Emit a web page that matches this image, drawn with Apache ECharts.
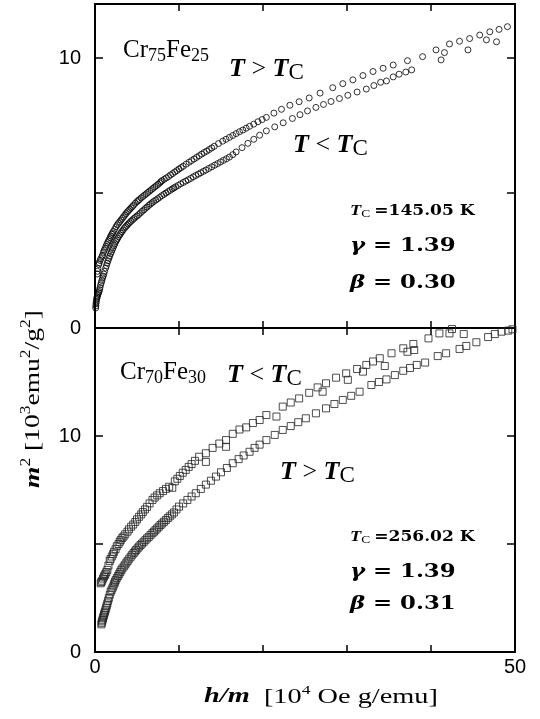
<!DOCTYPE html>
<html>
<head>
<meta charset="utf-8">
<script src="https://cdn.jsdelivr.net/npm/echarts@6/dist/echarts.min.js"></script>
<style>
html,body{margin:0;padding:0;background:#fff;}
#c{width:540px;height:719px;}
</style>
</head>
<body>
<div id="c"></div>
<script>
// ---- Data ----
// x: h/m [10^4 Oe g/emu], y: m^2 [10^3 emu^2/g^2]
var xTickLabels = ['0', '50'];
var yTickLabels = ['0', '10'];

// Cr75Fe25, T > Tc (upper branch)
var crfe25Above = [
 [0.27,2.0],[0.3,2.1],[0.35,2.2],[0.45,2.35],[0.5,2.42],[0.6,2.5],[0.7,2.57],[0.84,2.65],[0.9,2.7],[1.0,2.8],
 [1.1,2.88],[1.2,2.95],[1.3,3.02],[1.4,3.1],[1.5,3.16],[1.6,3.22],[1.7,3.28],[1.8,3.35],[1.9,3.41],[2.0,3.47],
 [2.1,3.52],[2.2,3.58],[2.35,3.66],[2.5,3.75],[2.65,3.82],[2.8,3.88],[2.95,3.94],[3.1,4.0],[3.25,4.06],[3.4,4.12],
 [3.55,4.18],[3.7,4.24],[3.85,4.3],[4.0,4.35],[4.15,4.4],[4.3,4.45],[4.45,4.5],[4.6,4.55],[4.8,4.62],[5.0,4.68],
 [5.15,4.72],[5.3,4.76],[5.5,4.82],[5.7,4.87],[5.9,4.92],[6.1,4.97],[6.3,5.02],[6.5,5.07],[6.7,5.12],[6.9,5.17],
 [7.1,5.22],[7.3,5.27],[7.5,5.32],[7.7,5.37],[7.85,5.42],[8.0,5.46],[8.25,5.51],[8.5,5.56],[8.75,5.61],[9.0,5.67],
 [9.25,5.72],[9.5,5.78],[9.75,5.83],[10.0,5.89],[10.25,5.94],[10.5,5.99],[10.85,6.07],[11.2,6.14],[11.5,6.2],[11.8,6.26],
 [12.1,6.32],[12.4,6.38],[12.7,6.44],[13.0,6.5],[13.3,6.55],[13.6,6.61],[13.9,6.67],[14.2,6.73],[14.7,6.83],[15.2,6.92],
 [15.6,6.99],[16.0,7.06],[16.4,7.13],[16.8,7.2],[17.2,7.27],[17.6,7.33],[18.0,7.4],[18.4,7.47],[18.9,7.55],[19.4,7.64],
 [19.9,7.72],[20.4,7.8],[21.3,7.96],[22.2,8.1],[23.2,8.25],[24.3,8.38],[25.5,8.52],[26.8,8.7],[28.3,8.9],[29.5,9.05],
 [30.7,9.19],[31.9,9.35],[33.1,9.5],[34.3,9.62],[35.5,9.74],[37.2,9.9],[39.0,10.05],[40.6,10.3],[42.2,10.52],[43.4,10.62],
 [44.6,10.72],[45.8,10.85],[47.0,10.97],[48.1,11.06],[49.1,11.16]
];
// Cr75Fe25, T < Tc (lower branch)
var crfe25Below = [
 [0.08,0.74],[0.1,0.82],[0.12,0.9],[0.15,0.97],[0.18,1.05],[0.22,1.1],[0.25,1.15],[0.3,1.2],[0.35,1.25],[0.42,1.3],
 [0.48,1.35],[0.54,1.42],[0.6,1.5],[0.67,1.6],[0.75,1.68],[0.82,1.76],[0.9,1.85],[0.97,1.92],[1.05,2.0],[1.15,2.1],
 [1.27,2.22],[1.36,2.31],[1.45,2.4],[1.55,2.49],[1.65,2.58],[1.75,2.66],[1.85,2.75],[1.95,2.82],[2.05,2.9],[2.15,2.97],
 [2.25,3.05],[2.36,3.12],[2.47,3.2],[2.58,3.26],[2.7,3.32],[2.82,3.39],[2.95,3.45],[3.07,3.51],[3.2,3.57],[3.35,3.63],
 [3.5,3.7],[3.65,3.75],[3.8,3.8],[3.95,3.85],[4.1,3.9],[4.27,3.95],[4.45,4.0],[4.62,4.05],[4.8,4.1],[5.0,4.15],
 [5.2,4.2],[5.4,4.26],[5.6,4.32],[5.8,4.37],[6.0,4.43],[6.2,4.48],[6.4,4.54],[6.6,4.59],[6.8,4.64],[7.0,4.69],
 [7.24,4.74],[7.47,4.79],[7.7,4.84],[7.95,4.9],[8.2,4.95],[8.45,5.0],[8.7,5.05],[8.95,5.1],[9.2,5.15],[9.4,5.19],
 [9.6,5.23],[9.9,5.28],[10.2,5.34],[10.5,5.39],[10.8,5.44],[11.1,5.49],[11.4,5.54],[11.7,5.6],[12.0,5.65],[12.3,5.7],
 [12.6,5.75],[12.9,5.8],[13.2,5.85],[13.55,5.91],[13.9,5.97],[14.25,6.03],[14.6,6.09],[14.95,6.15],[15.3,6.21],[15.65,6.27],
 [16.0,6.33],[16.4,6.42],[16.8,6.52],[17.5,6.68],[18.2,6.84],[18.9,6.99],[19.6,7.14],[20.4,7.3],[21.4,7.45],[22.4,7.6],
 [23.5,7.76],[24.4,7.9],[25.3,8.04],[26.3,8.17],[27.2,8.28],[28.1,8.39],[29.1,8.5],[30.1,8.62],[31.2,8.74],[32.3,8.85],
 [33.2,8.98],[34.0,9.1],[34.7,9.15],[35.5,9.3],[36.2,9.4],[37.0,9.48],[37.7,9.56],[41.2,9.93],[41.6,10.2],[44.4,10.3],
 [46.6,10.67],[47.8,10.6]
];
// Cr70Fe30, T < Tc (upper branch)
var crfe30Below = [
 [0.68,3.18],[0.75,3.24],[0.85,3.3],[0.95,3.4],[1.07,3.49],[1.15,3.55],[1.25,3.62],[1.35,3.7],[1.47,3.8],[1.6,4.0],
 [1.75,4.21],[1.85,4.3],[2.0,4.42],[2.15,4.53],[2.27,4.64],[2.45,4.76],[2.6,4.9],[2.8,5.0],[2.95,5.1],[3.07,5.19],
 [3.25,5.28],[3.4,5.35],[3.6,5.45],[3.86,5.57],[4.05,5.68],[4.3,5.8],[4.55,5.9],[4.8,6.02],[5.0,6.14],[5.25,6.26],
 [5.5,6.37],[5.7,6.48],[5.95,6.6],[6.2,6.72],[6.5,6.88],[6.84,7.04],[7.1,7.15],[7.4,7.25],[7.7,7.35],[8.1,7.45],
 [8.45,7.55],[8.83,7.65],[9.2,7.6],[9.5,7.9],[9.8,8.02],[10.1,8.15],[10.45,8.3],[10.8,8.43],[11.15,8.57],[11.5,8.7],
 [11.9,8.85],[12.4,9.04],[13.2,9.2],[13.2,8.8],[14.0,9.45],[14.8,9.65],[15.6,9.81],[15.6,9.5],[16.4,10.1],[17.2,10.3],
 [18.0,10.4],[18.8,10.6],[19.6,10.74],[20.4,10.97],[21.6,10.9],[22.35,11.36],[23.3,11.55],[24.3,11.74],[25.5,12.0],[26.5,12.25],
 [27.1,12.05],[27.5,12.44],[28.7,12.7],[29.9,12.9],[30.1,12.6],[31.2,13.1],[31.9,12.98],[32.3,13.29],[33.1,13.45],[33.9,13.6],
 [34.5,13.24],[35.3,13.83],[36.7,14.06],[37.2,13.9],[37.9,14.26],[38.0,13.98],[39.7,14.52],[41.0,14.75],[42.2,14.75],[42.5,14.95],
 [43.9,14.72]
];
// Cr70Fe30, T > Tc (lower branch)
var crfe30Above = [
 [0.76,1.28],[0.8,1.35],[0.85,1.42],[0.9,1.49],[0.95,1.56],[1.01,1.64],[1.07,1.72],[1.13,1.8],[1.19,1.87],[1.26,1.96],
 [1.33,2.05],[1.4,2.15],[1.47,2.25],[1.56,2.37],[1.65,2.5],[1.76,2.65],[1.87,2.79],[1.98,2.88],[2.1,2.98],[2.2,3.07],
 [2.3,3.17],[2.38,3.25],[2.47,3.33],[2.6,3.43],[2.75,3.52],[2.88,3.61],[3.0,3.7],[3.13,3.79],[3.26,3.87],[3.43,3.96],
 [3.6,4.05],[3.75,4.14],[3.9,4.22],[4.08,4.32],[4.26,4.41],[4.43,4.5],[4.6,4.58],[4.75,4.65],[4.9,4.72],[5.07,4.8],
 [5.25,4.88],[5.42,4.95],[5.6,5.02],[5.8,5.1],[6.0,5.18],[6.2,5.26],[6.4,5.33],[6.62,5.42],[6.84,5.5],[7.02,5.57],
 [7.2,5.64],[7.4,5.72],[7.6,5.8],[7.8,5.88],[8.0,5.95],[8.22,6.03],[8.44,6.11],[8.67,6.2],[8.9,6.28],[9.15,6.37],
 [9.4,6.46],[9.7,6.6],[10.0,6.73],[10.5,6.88],[11.0,7.04],[11.5,7.2],[12.0,7.35],[12.6,7.55],[13.2,7.75],[13.8,7.93],
 [14.4,8.12],[15.0,8.32],[15.7,8.52],[16.4,8.74],[17.1,8.93],[17.7,9.1],[18.4,9.27],[19.0,9.45],[19.6,9.6],[20.4,9.81],
 [21.4,10.05],[22.35,10.28],[23.3,10.46],[24.2,10.64],[25.1,10.82],[26.3,11.05],[27.5,11.28],[28.5,11.48],[29.5,11.67],[30.5,11.86],
 [31.5,12.05],[32.9,12.36],[33.8,12.5],[34.7,12.62],[35.7,12.82],[36.7,13.02],[37.5,13.15],[38.3,13.29],[39.3,13.4],[40.8,13.7],
 [41.8,13.83],[43.4,14.03],[44.2,14.17],[45.4,14.34],[46.8,14.58],[47.6,14.72],[48.4,14.83],[49.2,14.88],[49.7,14.94]
];

// ---- Chart ----
var chart = echarts.init(document.getElementById('c'), null, {renderer: 'canvas'});
var SANS = 'Liberation Sans, Arial, sans-serif';
var SERIF = 'Liberation Serif, Times New Roman, serif';
var DSERIF = 'DejaVu Serif, serif';

function xAx(grid, pos, labels) {
  return {
    type: 'value', gridIndex: grid, position: pos, min: 0, max: 50, interval: 10,
    axisLine: {show: true, onZero: false, lineStyle: {color: '#000', width: 2}},
    axisTick: {show: true, inside: true, length: 7, lineStyle: {color: '#000', width: 1.5}},
    splitLine: {show: false},
    axisLabel: {show: labels, margin: 5, color: '#000', fontFamily: SANS, fontSize: 20,
      formatter: function (v) { return xTickLabels.indexOf(String(v)) >= 0 ? String(v) : ''; }}
  };
}
function yAx(grid, pos, max, labels) {
  return {
    type: 'value', gridIndex: grid, position: pos, min: 0, max: max, interval: 5,
    axisLine: {show: true, onZero: false, lineStyle: {color: '#000', width: 2}},
    axisTick: {show: true, inside: true, length: 8, lineStyle: {color: '#000', width: 1.5}},
    splitLine: {show: false},
    axisLabel: {show: labels, margin: 14, color: '#000', fontFamily: SANS, fontSize: 20, showMaxLabel: false,
      formatter: function (v) { return yTickLabels.indexOf(String(v)) >= 0 ? String(v) : ''; }}
  };
}

var circleStyle = {color: 'rgba(255,255,255,0)', borderColor: '#000', borderWidth: 1};
var squareStyle = {color: 'rgba(255,255,255,0)', borderColor: '#222', borderWidth: 1};

function sc(data, xi, yi, sym, size, style) {
  return {type: 'scatter', data: data, xAxisIndex: xi, yAxisIndex: yi, symbol: sym, symbolSize: size,
    itemStyle: style, silent: true, animation: false};
}

var rT = {fontFamily: SERIF, fontWeight: 'bold', fontStyle: 'italic', fontSize: 26, lineHeight: 30};
var rOp = {fontFamily: SERIF, fontSize: 26, lineHeight: 30};
var rC = {fontFamily: SERIF, fontSize: 23, lineHeight: 18, verticalAlign: 'bottom'};
var richTT = {T: rT, op: rOp, C: rC};

var rCr = {fontFamily: SERIF, fontSize: 25, lineHeight: 30};
var rSub = {fontFamily: SERIF, fontSize: 18, lineHeight: 13, verticalAlign: 'bottom'};
var richCr = {n: rCr, s: rSub};

var richTc = {
  T: {fontFamily: SERIF, fontWeight: 'bold', fontStyle: 'italic', fontSize: 15, lineHeight: 18},
  C: {fontFamily: SERIF, fontSize: 11, lineHeight: 12, verticalAlign: 'bottom'},
  v: {fontFamily: DSERIF, fontWeight: 'bold', fontSize: 14, lineHeight: 18}
};
var richG = {
  g: {fontFamily: DSERIF, fontWeight: 'bold', fontStyle: 'italic', fontSize: 19, lineHeight: 26},
  v: {fontFamily: DSERIF, fontWeight: 'bold', fontSize: 19, lineHeight: 26}
};

function txt(x, y, text, rich, sx) {
  return {type: 'text', x: x, y: y, scaleX: sx || 1, silent: true,
    style: {text: text, rich: rich, textAlign: 'left', textVerticalAlign: 'middle', align: 'left', verticalAlign: 'middle', fill: '#000'}};
}

var option = {
  backgroundColor: '#fff',
  animation: false,
  grid: [
    {left: 95, top: 4, width: 420, height: 324, containLabel: false},
    {left: 95, top: 328, width: 420, height: 324, containLabel: false}
  ],
  xAxis: [xAx(0, 'bottom', false), xAx(0, 'top', false), xAx(1, 'bottom', true), xAx(1, 'top', false)],
  yAxis: [yAx(0, 'left', 12, true), yAx(0, 'right', 12, false), yAx(1, 'left', 15, true), yAx(1, 'right', 15, false)],
  series: [
    sc(crfe25Above, 0, 0, 'circle', 6, circleStyle),
    sc(crfe25Below, 0, 0, 'circle', 6, circleStyle),
    sc(crfe30Below, 2, 2, 'rect', 7, squareStyle),
    sc(crfe30Above, 2, 2, 'rect', 7, squareStyle)
  ],
  graphic: [
    // top panel annotations
    txt(123, 50, '{n|Cr}{s|75}{n|Fe}{s|25}', richCr),
    txt(229, 69, '{T|T}{op| > }{T|T}{C|C}', richTT),
    txt(293, 145, '{T|T}{op| < }{T|T}{C|C}', richTT),
    txt(350, 211, '{T|T}{C|C} {v|=145.05 K}', richTc, 1.22),
    txt(350, 246, '{g|γ}{v| = 1.39}', richG, 1.2),
    txt(350, 283, '{g|β}{v| = 0.30}', richG, 1.2),
    // bottom panel annotations
    txt(120, 372, '{n|Cr}{s|70}{n|Fe}{s|30}', richCr),
    txt(227, 375, '{T|T}{op| < }{T|T}{C|C}', richTT),
    txt(280, 472, '{T|T}{op| > }{T|T}{C|C}', richTT),
    txt(350, 537, '{T|T}{C|C} {v|=256.02 K}', richTc, 1.22),
    txt(350, 572, '{g|γ}{v| = 1.39}', richG, 1.2),
    txt(350, 604, '{g|β}{v| = 0.31}', richG, 1.2),
    // axis names
    {type: 'text', x: 321, y: 697, scaleX: 1.35, silent: true,
      style: {text: '{b|h/m}{n|  [10}{sup|4}{n| Oe g/emu]}', textAlign: 'center', textVerticalAlign: 'middle', align: 'center', verticalAlign: 'middle',
        rich: {
          b: {fontFamily: SERIF, fontWeight: 'bold', fontStyle: 'italic', fontSize: 21, lineHeight: 26},
          n: {fontFamily: SERIF, fontSize: 21, lineHeight: 26},
          sup: {fontFamily: SERIF, fontSize: 13, lineHeight: 14, verticalAlign: 'top'}
        }}},
    {type: 'text', x: 33, y: 399, rotation: Math.PI / 2, scaleX: 1.25, silent: true,
      style: {text: '{b|m}{sup|2}{n| [10}{sup|3}{n|emu}{sup|2}{n|/g}{sup|2}{n|]}', textAlign: 'center', textVerticalAlign: 'middle', align: 'center', verticalAlign: 'middle',
        rich: {
          b: {fontFamily: SERIF, fontWeight: 'bold', fontStyle: 'italic', fontSize: 22, lineHeight: 28},
          n: {fontFamily: SERIF, fontSize: 22, lineHeight: 28},
          sup: {fontFamily: SERIF, fontSize: 14, lineHeight: 14, verticalAlign: 'top'}
        }}}
  ]
};
chart.setOption(option);
</script>
</body>
</html>
